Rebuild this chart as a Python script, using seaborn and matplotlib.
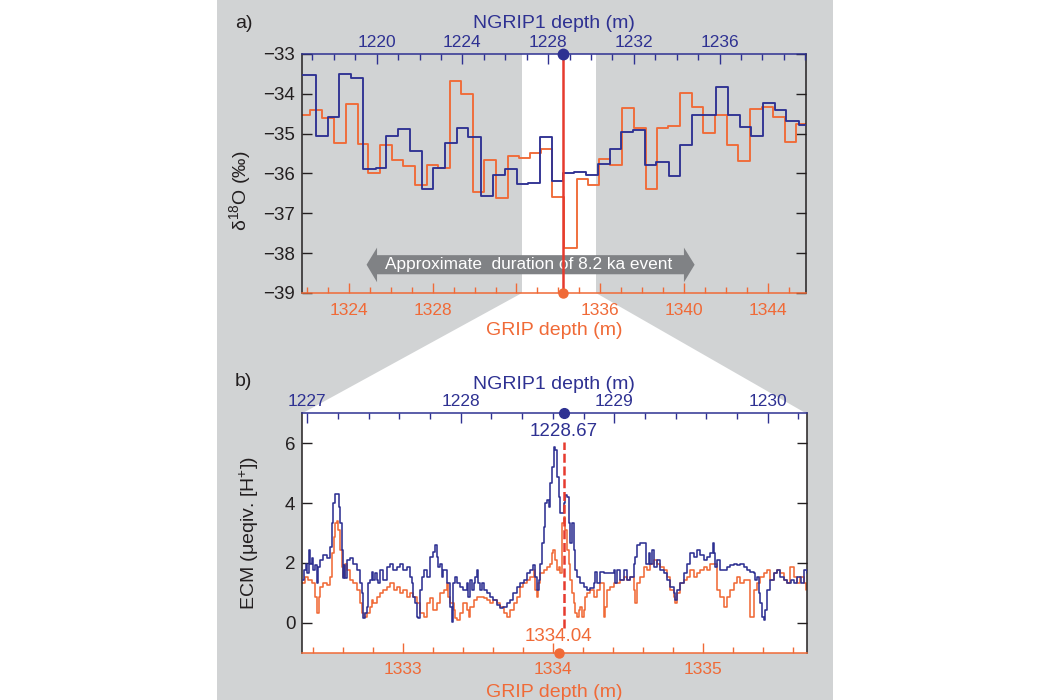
import matplotlib
matplotlib.use("Agg")
import matplotlib.pyplot as plt
import seaborn as sns
from matplotlib.patches import Polygon, Rectangle
from matplotlib.ticker import FixedLocator, FixedFormatter, MultipleLocator

# ---------------- data ----------------
# Panel a: d18O, bag samples (step series, value holds from each depth to the next)
ngrip_a_depth = [1216.53, 1217.17, 1217.72, 1218.26, 1218.80, 1219.38, 1219.97, 1220.43, 1221.01,
                 1221.55, 1222.10, 1222.64, 1223.18, 1223.73, 1224.27, 1224.85, 1225.44, 1225.98,
                 1226.53, 1227.07, 1227.61, 1228.16, 1228.67, 1229.21, 1229.76, 1230.33, 1230.88,
                 1231.42, 1231.96, 1232.52, 1233.05, 1233.63, 1234.17, 1234.73, 1235.27, 1235.82,
                 1236.39, 1236.94, 1237.48, 1238.02, 1238.57, 1239.11, 1239.69, 1240.03]
ngrip_a_d18o = [-33.53, -35.05, -34.58, -33.50, -33.59, -35.88, -35.85, -35.05, -34.88,
                -35.44, -36.38, -35.86, -35.23, -34.86, -35.08, -36.57, -36.05, -35.88,
                -36.27, -36.23, -35.08, -36.19, -36.00, -35.96, -36.04, -35.76, -35.38,
                -34.97, -34.90, -35.78, -35.71, -36.07, -35.29, -34.53, -34.53, -33.83,
                -34.53, -34.84, -35.05, -34.23, -34.40, -34.67, -34.78, -34.78]

grip_a_depth = [1321.77, 1322.14, 1322.70, 1323.30, 1323.86, 1324.41, 1324.92, 1325.48, 1326.07,
                1326.59, 1327.15, 1327.71, 1328.27, 1328.83, 1329.34, 1329.91, 1330.47, 1331.02,
                1331.58, 1332.13, 1332.65, 1333.16, 1333.72, 1334.29, 1334.88, 1335.40, 1335.94,
                1336.47, 1337.03, 1337.63, 1338.18, 1338.70, 1339.26, 1339.81, 1340.37, 1340.93,
                1341.49, 1342.05, 1342.60, 1343.16, 1343.72, 1344.27, 1344.83, 1345.36, 1345.83]
grip_a_d18o = [-34.53, -34.40, -34.61, -35.23, -34.26, -35.26, -36.00, -35.28, -35.65,
               -35.82, -36.28, -35.78, -35.86, -33.69, -34.00, -36.47, -35.67, -36.61,
               -35.57, -35.61, -35.48, -35.38, -36.58, -37.88, -36.13, -36.28, -35.63,
               -35.79, -34.36, -34.86, -36.38, -34.86, -34.82, -33.98, -34.32, -34.98,
               -34.53, -35.28, -35.69, -34.38, -34.33, -34.58, -35.21, -34.76, -34.76]

# Panel b: ECM (ueqiv. [H+])
ngrip_b_depth = [1226.967, 1226.978, 1226.991, 1227.000, 1227.009, 1227.017, 1227.028, 1227.039,
                 1227.050, 1227.061, 1227.072, 1227.083, 1227.104, 1227.126, 1227.148, 1227.159,
                 1227.170, 1227.180, 1227.196, 1227.204, 1227.213, 1227.224, 1227.230, 1227.239,
                 1227.248, 1227.257, 1227.278, 1227.300, 1227.322, 1227.343, 1227.354, 1227.365,
                 1227.376, 1227.387, 1227.398, 1227.409, 1227.420, 1227.430, 1227.441, 1227.452,
                 1227.463, 1227.474, 1227.496, 1227.517, 1227.539, 1227.561, 1227.583, 1227.604,
                 1227.626, 1227.648, 1227.670, 1227.680, 1227.691, 1227.702, 1227.713, 1227.724,
                 1227.735, 1227.746, 1227.757, 1227.778, 1227.800, 1227.822, 1227.833, 1227.843,
                 1227.854, 1227.865, 1227.876, 1227.887, 1227.909, 1227.930, 1227.941, 1227.952,
                 1227.963, 1227.974, 1227.996, 1228.017, 1228.039, 1228.050, 1228.061, 1228.072,
                 1228.083, 1228.093, 1228.104, 1228.115, 1228.126, 1228.137, 1228.148, 1228.170,
                 1228.191, 1228.213, 1228.235, 1228.257, 1228.278, 1228.300, 1228.322, 1228.343,
                 1228.365, 1228.387, 1228.409, 1228.431, 1228.453, 1228.470, 1228.485, 1228.496,
                 1228.507, 1228.518, 1228.529, 1228.540, 1228.551, 1228.561, 1228.572, 1228.583,
                 1228.594, 1228.605, 1228.616, 1228.627, 1228.638, 1228.648, 1228.659, 1228.670,
                 1228.681, 1228.692, 1228.703, 1228.714, 1228.724, 1228.735, 1228.746, 1228.757,
                 1228.779, 1228.801, 1228.822, 1228.844, 1228.866, 1228.877, 1228.888, 1228.909,
                 1228.931, 1228.953, 1228.975, 1228.996, 1229.007, 1229.018, 1229.040, 1229.061,
                 1229.083, 1229.105, 1229.127, 1229.137, 1229.148, 1229.170, 1229.192, 1229.209,
                 1229.224, 1229.235, 1229.246, 1229.257, 1229.279, 1229.301, 1229.322, 1229.344,
                 1229.366, 1229.388, 1229.398, 1229.409, 1229.431, 1229.453, 1229.475, 1229.496,
                 1229.518, 1229.540, 1229.561, 1229.583, 1229.605, 1229.627, 1229.644, 1229.653,
                 1229.659, 1229.670, 1229.692, 1229.714, 1229.735, 1229.757, 1229.779, 1229.801,
                 1229.822, 1229.844, 1229.866, 1229.888, 1229.909, 1229.920, 1229.931, 1229.942,
                 1229.953, 1229.964, 1229.975, 1229.985, 1229.996, 1230.007, 1230.018, 1230.040,
                 1230.062, 1230.083, 1230.105, 1230.127, 1230.149, 1230.170, 1230.192, 1230.214,
                 1230.235, 1230.253]
ngrip_b_ecm = [1.43, 1.76, 1.98, 1.65, 2.43, 1.98, 2.15, 1.76,
               1.93, 1.32, 1.88, 2.10, 2.26, 2.15, 2.54, 3.32,
               3.99, 4.30, 4.30, 3.88, 3.32, 2.43, 1.48, 1.93,
               1.48, 2.10, 2.15, 1.98, 1.76, 1.32, 0.98, 0.15,
               0.31, 0.54, 1.32, 1.43, 1.71, 1.43, 1.65, 1.43,
               1.32, 1.76, 1.43, 1.88, 1.98, 1.76, 1.88, 1.98,
               1.76, 1.88, 1.54, 1.32, 0.87, 0.65, 0.20, 0.15,
               1.09, 1.54, 1.76, 1.54, 2.21, 2.38, 2.60, 2.21,
               1.88, 1.98, 1.54, 1.76, 1.32, 0.54, 0.03, 1.32,
               1.54, 1.32, 1.21, 1.09, 1.32, 0.87, 1.43, 1.09,
               1.32, 1.54, 1.76, 1.32, 1.09, 1.32, 1.09, 0.98,
               0.87, 0.76, 0.59, 0.48, 0.54, 0.65, 0.76, 0.98,
               1.21, 1.32, 1.43, 1.65, 1.76, 1.93, 1.54, 1.09,
               1.43, 1.98, 2.65, 3.21, 3.99, 4.10, 3.88, 4.66,
               5.22, 5.89, 5.78, 4.88, 4.21, 3.66, 3.66, 3.99,
               4.27, 4.21, 3.32, 2.65, 3.32, 2.43, 1.76, 1.54,
               1.32, 1.21, 1.09, 1.15, 1.32, 1.71, 1.32, 1.71,
               1.65, 1.65, 1.65, 1.76, 1.32, 1.76, 1.43, 1.76,
               1.43, 1.54, 1.98, 2.21, 2.60, 2.65, 2.65, 1.98,
               2.32, 1.98, 2.43, 1.88, 2.10, 1.76, 1.65, 1.43,
               1.21, 0.98, 0.76, 1.09, 1.32, 1.65, 1.98, 2.32,
               2.21, 2.43, 2.26, 2.10, 2.21, 2.32, 2.65, 2.32,
               1.88, 2.10, 1.76, 1.76, 1.88, 1.93, 1.98, 1.93,
               1.98, 1.88, 1.76, 1.71, 1.65, 1.43, 1.54, 0.98,
               0.65, 0.20, 0.09, 0.42, 1.09, 1.09, 1.43, 1.65,
               1.76, 1.54, 1.43, 1.32, 1.43, 1.32, 1.54, 1.32,
               1.76, 1.65]

grip_b_depth = [1332.331, 1332.349, 1332.371, 1332.393, 1332.416, 1332.427, 1332.438, 1332.449,
                1332.471, 1332.493, 1332.516, 1332.527, 1332.538, 1332.549, 1332.560, 1332.571,
                1332.582, 1332.593, 1332.604, 1332.616, 1332.627, 1332.649, 1332.671, 1332.693,
                1332.716, 1332.727, 1332.738, 1332.760, 1332.782, 1332.793, 1332.804, 1332.827,
                1332.849, 1332.871, 1332.893, 1332.916, 1332.938, 1332.960, 1332.982, 1333.004,
                1333.027, 1333.049, 1333.071, 1333.093, 1333.116, 1333.138, 1333.160, 1333.182,
                1333.204, 1333.227, 1333.249, 1333.271, 1333.293, 1333.304, 1333.316, 1333.338,
                1333.349, 1333.360, 1333.382, 1333.404, 1333.427, 1333.438, 1333.449, 1333.471,
                1333.493, 1333.516, 1333.538, 1333.560, 1333.582, 1333.604, 1333.627, 1333.649,
                1333.671, 1333.693, 1333.716, 1333.738, 1333.760, 1333.782, 1333.804, 1333.826,
                1333.849, 1333.871, 1333.882, 1333.893, 1333.904, 1333.915, 1333.938, 1333.960,
                1333.982, 1333.993, 1334.004, 1334.015, 1334.026, 1334.038, 1334.049, 1334.060,
                1334.071, 1334.082, 1334.093, 1334.104, 1334.115, 1334.126, 1334.138, 1334.149,
                1334.160, 1334.171, 1334.182, 1334.193, 1334.204, 1334.215, 1334.226, 1334.249,
                1334.271, 1334.293, 1334.315, 1334.338, 1334.349, 1334.360, 1334.382, 1334.404,
                1334.426, 1334.449, 1334.471, 1334.493, 1334.515, 1334.538, 1334.549, 1334.560,
                1334.582, 1334.604, 1334.626, 1334.649, 1334.671, 1334.693, 1334.715, 1334.738,
                1334.760, 1334.782, 1334.804, 1334.815, 1334.826, 1334.849, 1334.871, 1334.893,
                1334.915, 1334.938, 1334.960, 1334.982, 1335.004, 1335.026, 1335.049, 1335.071,
                1335.093, 1335.115, 1335.138, 1335.160, 1335.182, 1335.204, 1335.226, 1335.249,
                1335.271, 1335.293, 1335.315, 1335.338, 1335.360, 1335.382, 1335.404, 1335.426,
                1335.449, 1335.471, 1335.493, 1335.515, 1335.538, 1335.560, 1335.582, 1335.604,
                1335.626, 1335.649, 1335.671, 1335.689]
grip_b_ecm = [1.32, 1.54, 1.43, 1.32, 0.87, 0.31, 0.87, 1.21,
              1.32, 1.26, 1.54, 2.32, 2.88, 3.32, 3.41, 3.10,
              2.43, 1.88, 1.54, 1.98, 1.76, 1.43, 1.32, 1.09,
              0.65, 0.31, 0.20, 0.31, 0.54, 0.76, 0.65, 0.87,
              0.98, 1.09, 1.21, 1.32, 1.09, 1.21, 0.98, 1.09,
              0.87, 0.98, 0.87, 0.65, 0.31, 0.20, 0.65, 0.82,
              0.42, 0.65, 0.98, 1.09, 1.32, 0.87, 0.65, 0.42,
              0.15, 0.09, 0.31, 0.65, 0.42, 0.20, 0.54, 0.76,
              0.87, 0.87, 0.82, 0.76, 0.65, 0.76, 0.65, 0.54,
              0.31, 0.20, 0.42, 0.65, 0.87, 1.21, 1.32, 1.43,
              1.54, 1.76, 1.09, 0.87, 1.32, 1.65, 1.76, 1.88,
              1.98, 2.32, 2.43, 2.10, 1.76, 1.88, 1.65, 3.32,
              3.55, 3.10, 2.43, 1.98, 1.43, 0.98, 0.65, 0.31,
              0.20, 0.42, 0.54, 0.20, 0.42, 0.87, 0.98, 1.09,
              0.87, 1.09, 1.32, 0.20, 0.54, 1.09, 1.21, 1.32,
              1.32, 1.43, 1.54, 1.43, 1.54, 1.09, 0.65, 1.32,
              1.54, 1.88, 1.76, 1.98, 2.10, 1.98, 1.88, 1.76,
              1.54, 1.09, 0.87, 0.65, 0.98, 1.32, 1.43, 1.54,
              1.76, 1.54, 1.65, 1.76, 1.88, 1.76, 1.98, 1.98,
              1.09, 0.87, 0.54, 0.87, 1.09, 1.32, 1.54, 1.32,
              1.43, 1.43, 0.20, 1.09, 1.32, 1.54, 1.65, 1.76,
              1.43, 1.65, 1.76, 1.65, 1.43, 1.32, 1.88, 1.54,
              1.32, 1.54, 1.32, 1.09]

event_ngrip_depth = 1228.67
event_grip_depth = 1334.04
event_label_ngrip = "1228.67"
event_label_grip = "1334.04"

a_ngrip_ticks = [1220, 1224, 1228, 1232, 1236]
a_grip_ticks = [1324, 1328, 1332, 1336, 1340, 1344]
a_grip_ticklabels = ["1324", "1328", "", "1336", "1340", "1344"]
a_yticks = [-39, -38, -37, -36, -35, -34, -33]
b_ngrip_ticks = [1227, 1228, 1229, 1230]
b_grip_ticks = [1333, 1334, 1335]
b_yticks = [0, 2, 4, 6]

# ---------------- style ----------------
sns.set_style("ticks")
plt.rcParams["font.family"] = ["Liberation Sans", "DejaVu Sans"]
plt.rcParams["mathtext.fontset"] = "custom"
plt.rcParams["mathtext.rm"] = "Liberation Sans"
plt.rcParams["mathtext.it"] = "Liberation Sans:italic"
plt.rcParams["mathtext.bf"] = "Liberation Sans:bold"
plt.rcParams["axes.unicode_minus"] = True

BLUE = "#2E3192"
ORANGE = "#F06A37"
RED = "#E63B2E"
DARK = "#231F20"
GREY_BG = "#D1D3D4"
ARROW_GREY = "#808285"

TICK_FS = 12.5
LABEL_FS = 14

fig = plt.figure(figsize=(10.5, 7), dpi=100)
fig.patch.set_facecolor("white")
W, H = 1050.0, 700.0

# grey panel background and white zoom connector
fig.patches.append(Rectangle((217 / W, 0), (833 - 217) / W, 1, transform=fig.transFigure,
                             facecolor=GREY_BG, edgecolor="none", zorder=-3))
trap_px = [(522, 293), (596, 293), (806, 413.3), (302.3, 413.3)]
fig.patches.append(Polygon([(x / W, 1 - y / H) for x, y in trap_px], closed=True,
                           transform=fig.transFigure, facecolor="white",
                           edgecolor="none", zorder=-2))

axA = fig.add_axes([302.3 / W, 1 - 293 / H, 503.7 / W, 239 / H])
axB = fig.add_axes([302.3 / W, 1 - 652.7 / H, 504.2 / W, 239.4 / H])
axA.set_facecolor("none")
axB.set_facecolor("white")
axA2 = axA.twiny()
axB2 = axB.twiny()


def style_pair(ax, ax2, grip_major, grip_minor, ngrip_major, ngrip_minor,
               grip_labels=None):
    ax.spines["top"].set_visible(False)
    ax.spines["bottom"].set_color(ORANGE)
    ax.spines["left"].set_color(DARK)
    ax.spines["right"].set_color(DARK)
    for s in ["bottom", "left", "right"]:
        ax2.spines[s].set_visible(False)
    ax2.spines["top"].set_color(BLUE)
    for sp in list(ax.spines.values()) + list(ax2.spines.values()):
        sp.set_linewidth(1.1)

    ax.xaxis.set_major_locator(FixedLocator(grip_major))
    if grip_labels is not None:
        ax.xaxis.set_major_formatter(FixedFormatter(grip_labels))
    ax.xaxis.set_minor_locator(MultipleLocator(grip_minor))
    ax2.xaxis.set_major_locator(FixedLocator(ngrip_major))
    ax2.xaxis.set_minor_locator(MultipleLocator(ngrip_minor))

    ax.tick_params(axis="x", which="major", direction="in", length=7, width=1,
                   color=ORANGE, labelcolor=ORANGE, labelsize=TICK_FS, pad=7,
                   bottom=True, top=False)
    ax.tick_params(axis="x", which="minor", direction="in", length=4.3, width=1,
                   color=ORANGE, bottom=True, top=False)
    ax2.tick_params(axis="x", which="major", direction="in", length=7, width=1,
                    color=BLUE, labelcolor=BLUE, labelsize=TICK_FS, pad=3,
                    top=True, bottom=False)
    ax2.tick_params(axis="x", which="minor", direction="in", length=4.3, width=1,
                    color=BLUE, top=True, bottom=False)
    ax.tick_params(axis="y", which="major", direction="in", length=7, width=1,
                   color=DARK, labelcolor=DARK, labelsize=TICK_FS + 1, pad=5,
                   left=True, right=True)
    ax.tick_params(axis="y", which="minor", left=False, right=False)


# ---------------- panel a ----------------
axA.axvspan(1332.27, 1335.80, facecolor="white", edgecolor="none", zorder=0)
sns.lineplot(x=grip_a_depth, y=grip_a_d18o, ax=axA, color=ORANGE, linewidth=1.35,
             drawstyle="steps-post", estimator=None, sort=False, errorbar=None, zorder=2)
sns.lineplot(x=ngrip_a_depth, y=ngrip_a_d18o, ax=axA2, color=BLUE, linewidth=1.35,
             drawstyle="steps-post", estimator=None, sort=False, errorbar=None, zorder=2)
axA.set_xlim(1321.77, 1345.83)
axA2.set_xlim(1216.53, 1240.03)
axA.set_ylim(-39, -33)
axA.set_yticks(a_yticks)
style_pair(axA, axA2, a_grip_ticks, 1, a_ngrip_ticks, 1, a_grip_ticklabels)

# arrow for the 8.2 ka event duration
arrow_pts = [(1324.84, -38.29), (1325.34, -37.86), (1325.34, -38.05), (1340.0, -38.05),
             (1340.0, -37.86), (1340.51, -38.29), (1340.0, -38.73), (1340.0, -38.53),
             (1325.34, -38.53), (1325.34, -38.73)]
axA.add_patch(Polygon(arrow_pts, closed=True, facecolor=ARROW_GREY, edgecolor="none", zorder=3))
axA.text(1332.58, -38.29, "Approximate  duration of 8.2 ka event", color="white",
         fontsize=12.4, ha="center", va="center", zorder=4)

axA2.plot([event_ngrip_depth, event_ngrip_depth], [-33, -39], color=RED, linewidth=1.8,
          zorder=4, solid_capstyle="butt")
axA2.plot([event_ngrip_depth], [-33], "o", color=BLUE, markersize=7.5, clip_on=False, zorder=6)
axA2.plot([event_ngrip_depth], [-39], "o", color=ORANGE, markersize=6.5, clip_on=False, zorder=6)

axA.set_ylabel("δ$^{\\mathrm{18}}$O (‰)", fontsize=LABEL_FS, color=DARK)
axA.yaxis.set_label_coords(-0.098, 0.43)
axA.set_xlabel("GRIP depth (m)", fontsize=LABEL_FS, color=ORANGE)
axA.xaxis.set_label_coords(0.5, -0.122)
axA2.set_xlabel("NGRIP1 depth (m)", fontsize=LABEL_FS, color=BLUE)
axA2.xaxis.set_label_coords(0.5, 1.108)

# ---------------- panel b ----------------
sns.lineplot(x=grip_b_depth, y=grip_b_ecm, ax=axB, color=ORANGE, linewidth=1.15,
             drawstyle="steps-post", estimator=None, sort=False, errorbar=None, zorder=2)
sns.lineplot(x=ngrip_b_depth, y=ngrip_b_ecm, ax=axB2, color=BLUE, linewidth=1.15,
             drawstyle="steps-post", estimator=None, sort=False, errorbar=None, zorder=2)
axB.set_xlim(1332.33, 1335.69)
axB2.set_xlim(1226.967, 1230.253)
axB.set_ylim(-1, 7)
axB.set_yticks(b_yticks)
style_pair(axB, axB2, b_grip_ticks, 0.2, b_ngrip_ticks, 0.2)

axB2.plot([event_ngrip_depth, event_ngrip_depth], [-0.18, 6.05], color=RED, linewidth=1.8,
          linestyle=(0, (3.6, 1.5)), zorder=4)
axB2.plot([event_ngrip_depth], [7], "o", color=BLUE, markersize=7, clip_on=False, zorder=6)
axB.plot([event_grip_depth], [-1], "o", color=ORANGE, markersize=6.5, clip_on=False, zorder=6)
axB2.text(event_ngrip_depth, 6.39, event_label_ngrip, color=BLUE, fontsize=13.5,
          ha="center", va="center", zorder=5)
axB.text(event_grip_depth, -0.47, event_label_grip, color=ORANGE, fontsize=13.5,
         ha="center", va="center", zorder=5)

axB.set_ylabel("ECM (μeqiv. [H$^{\\mathrm{+}}$])", fontsize=LABEL_FS, color=DARK)
axB.yaxis.set_label_coords(-0.081, 0.5)
axB.set_xlabel("GRIP depth (m)", fontsize=LABEL_FS, color=ORANGE)
axB.xaxis.set_label_coords(0.5, -0.13)
axB2.set_xlabel("NGRIP1 depth (m)", fontsize=LABEL_FS, color=BLUE)
axB2.xaxis.set_label_coords(0.5, 1.1)

# panel letters
fig.text(235 / W, 1 - 15 / H, "a)", fontsize=LABEL_FS, color=DARK, ha="left", va="top")
fig.text(235 / W, 1 - 373 / H, "b)", fontsize=LABEL_FS, color=DARK, ha="left", va="top")

fig.savefig("out.png", dpi=100, facecolor=fig.get_facecolor())
